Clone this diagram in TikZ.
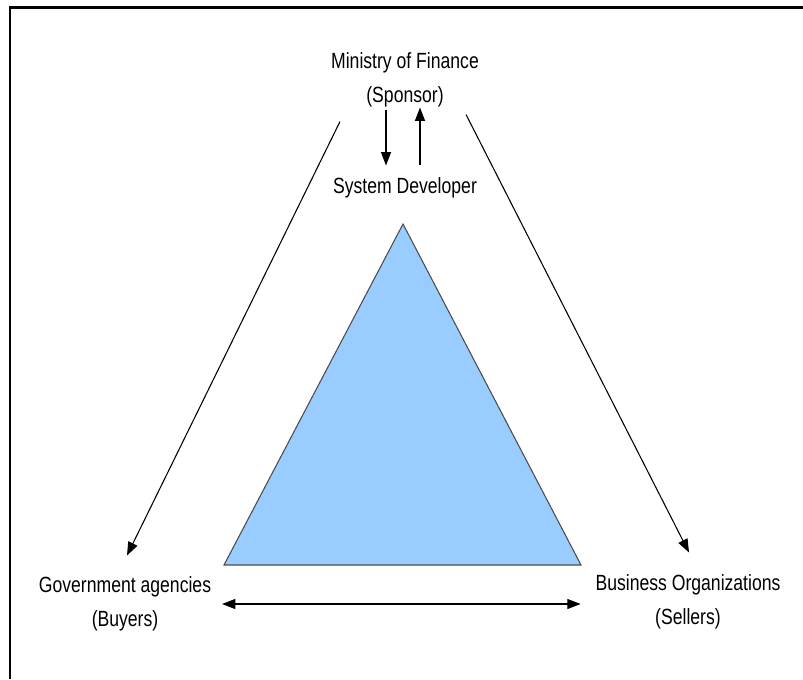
\documentclass[tikz,border=0pt]{standalone}
\usepackage{fontspec}
\setmainfont{Liberation Sans}[FakeStretch=0.8]
\usetikzlibrary{arrows.meta}
\definecolor{triblue}{HTML}{99CCFF}

\begin{document}
\begin{tikzpicture}[x=0.75pt, y=-0.75pt, node distance=81pt,
    party/.style={align=center, inner sep=0pt, font=\fontsize{16.5}{25.5}\selectfont},
    link/.style={-{Triangle[length=10pt,width=7.5pt]}, line width=0.9pt}]
  \useasboundingbox (0,0) rectangle (803,679);
  \draw[line width=1.6pt] (10,679) |- (803,7.5);

  \node[party] (mof) at (405,80) {Ministry of Finance\\(Sponsor)};
  \node[party, below of=mof] (sd) {System Developer};
  \node[party] (gov) at (125,604) {Government agencies\\(Buyers)};
  \node[party] (bus) at (688,602) {Business Organizations\\(Sellers)};

  \coordinate (apex) at (403,224);
  \coordinate (bl) at (224,565);
  \coordinate (br) at (581,565);
  \draw[fill=triblue, draw=black!70, line width=0.8pt] (apex) -- (bl) -- (br) -- cycle;

  \draw[link] ([shift={(-19,2)}]mof.south) -- ([shift={(-19,-12)}]sd.north);
  \draw[link] ([shift={(15,-12)}]sd.north) -- ([shift={(15,0)}]mof.south);
  \draw[link, line width=0.8pt] ([shift={(-65,14)}]mof.south) -- ([shift={(2,-21)}]gov.north);
  \draw[link, line width=0.8pt] ([shift={(61,7)}]mof.south) -- ([shift={(1,-22)}]bus.north);
  \draw[{Triangle[length=10pt,width=7.5pt]}-{Triangle[length=10pt,width=7.5pt]}, line width=0.9pt,
    shorten <=8pt, shorten >=11pt] (gov.east) -- (gov.east -| bus.west);
\end{tikzpicture}
\end{document}
